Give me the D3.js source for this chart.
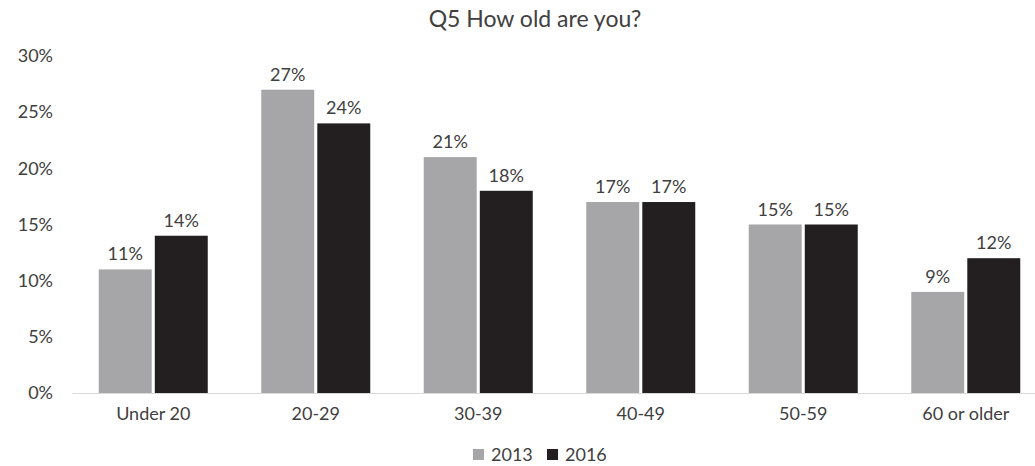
<!DOCTYPE html>
<html>
<head>
<meta charset="utf-8">
<script src="https://cdn.jsdelivr.net/npm/d3@7"></script>
<style>
  html, body { margin: 0; padding: 0; background: #fff; }
  svg { display: block; font-family: Lato, "Open Sans", sans-serif; }
</style>
</head>
<body>
<svg id="chart" width="1035" height="466"></svg>
<script>
// Age groups and survey shares (percent)
const categories = ["Under 20", "20-29", "30-39", "40-49", "50-59", "60 or older"];
const seriesNames = ["2013", "2016"];
const values2013 = [11, 27, 21, 17, 15, 9];
const values2016 = [14, 24, 18, 17, 15, 12];
const yTicks = [0, 5, 10, 15, 20, 25, 30];
const colors = ["#a6a6a8", "#231f20"];

const svg = d3.select("#chart");
const textColor = "#404040";
const labelSize = 18;

const x = d3.scaleBand().domain(categories).range([72, 1047]).paddingInner(0).paddingOuter(0);
const xSub = d3.scaleBand().domain(seriesNames).range([0, 109]).paddingInner(0.055);
const y = d3.scaleLinear().domain([0, 30]).range([393, 56]);

const series = [values2013, values2016];

// Title
svg.append("text")
  .attr("x", 535).attr("y", 27)
  .attr("text-anchor", "middle")
  .attr("font-size", 23)
  .attr("fill", textColor)
  .text("Q5 How old are you?");

// Y axis labels
const yAxis = svg.append("g").attr("transform", "translate(53,0)")
  .call(d3.axisLeft(y).tickValues(yTicks).tickFormat(d => d + "%").tickSize(0).tickPadding(0));
yAxis.select(".domain").remove();
yAxis.selectAll("text").attr("font-size", labelSize).attr("fill", textColor).attr("font-family", "Lato, 'Open Sans', sans-serif");

// Bars
const groups = svg.append("g").selectAll("g")
  .data(categories)
  .join("g")
  .attr("transform", d => `translate(${x(d) + (x.bandwidth() - 109) / 2},0)`);

groups.selectAll("rect")
  .data((d, i) => seriesNames.map((s, j) => ({ s, v: series[j][i], j })))
  .join("rect")
  .attr("x", d => xSub(d.s))
  .attr("y", d => y(d.v))
  .attr("width", xSub.bandwidth())
  .attr("height", d => y(0) - y(d.v))
  .attr("fill", d => colors[d.j]);

groups.selectAll("text.val")
  .data((d, i) => seriesNames.map((s, j) => ({ s, v: series[j][i], j })))
  .join("text")
  .attr("class", "val")
  .attr("x", d => xSub(d.s) + xSub.bandwidth() / 2)
  .attr("y", d => y(d.v) - 9)
  .attr("text-anchor", "middle")
  .attr("font-size", labelSize)
  .attr("fill", textColor)
  .text(d => d.v + "%");

// X axis
const xAxis = svg.append("g").attr("transform", "translate(0,393)")
  .call(d3.axisBottom(x).tickSize(0).tickPadding(14));
xAxis.select(".domain").attr("stroke", "#d9d9d9").attr("stroke-width", 1);
xAxis.selectAll("text").attr("font-size", labelSize).attr("fill", textColor).attr("font-family", "Lato, 'Open Sans', sans-serif");

// Legend
const legend = svg.append("g").attr("transform", "translate(473,455)");
const legendItems = [{ name: "2013", x: 0 }, { name: "2016", x: 74 }];
legendItems.forEach((item, i) => {
  legend.append("rect").attr("x", item.x).attr("y", -6).attr("width", 11).attr("height", 11).attr("fill", colors[i]);
  legend.append("text").attr("x", item.x + 18).attr("y", 0).attr("dy", "0.35em")
    .attr("font-size", labelSize).attr("fill", textColor).text(item.name);
});
</script>
</body>
</html>
